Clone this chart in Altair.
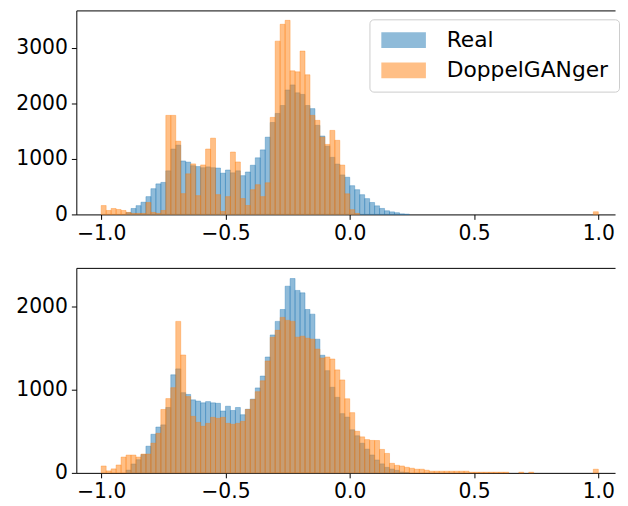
import altair as alt
import numpy as np
import pandas as pd

# ---- data ----
bin_edges = np.round(np.linspace(-1.0, 1.0, 101), 4)
series_names = ["Real", "DoppelGANger"]
series_colors = ["#1f77b4", "#ff7f0e"]
x_ticks = [-1.0, -0.5, 0.0, 0.5, 1.0]
y_ticks_top = [0, 1000, 2000, 3000]
y_ticks_bottom = [0, 1000, 2000]

real_counts = [
    0, 0, 0, 0, 0, 33, 107, 158, 220, 321,
    464, 551, 577, 786, 1179, 1250, 964, 943, 878, 863,
    842, 857, 842, 836, 744, 801, 750, 786, 699, 765,
    887, 1021, 1164, 1393, 1658, 1821, 1964, 2244, 2336, 2193,
    2164, 1964, 1908, 1607, 1414, 1229, 1029, 908, 712, 670,
    518, 446, 356, 285, 215, 155, 108, 66, 46, 31,
    10, 4, 0, 0, 0, 0, 0, 0, 0, 0,
    0, 0, 0, 0, 0, 0, 0, 0, 0, 0,
    0, 0, 0, 0, 0, 0, 0, 0, 0, 0,
    0, 0, 0, 0, 0, 0, 0, 0, 0, 0,
]

doppel_top = [
    160, 71, 107, 89, 71, 36, 18, 18, 18, 214,
    36, 18, 71, 1786, 1786, 1321, 375, 732, 911, 339,
    893, 1179, 1375, 357, 54, 321, 1125, 946, 286, 161,
    446, 536, 321, 571, 1750, 3125, 3429, 3500, 2589, 2571,
    2946, 2518, 1786, 1696, 1393, 1262, 1515, 1336, 890, 372,
    86, 18, 0, 0, 0, 0, 0, 0, 0, 0,
    0, 0, 0, 0, 0, 0, 0, 0, 0, 0,
    0, 0, 0, 0, 0, 0, 0, 0, 0, 0,
    0, 0, 0, 0, 0, 0, 0, 0, 0, 0,
    0, 0, 0, 0, 0, 0, 0, 0, 0, 48,
]

doppel_bottom = [
    83, 24, 48, 95, 190, 214, 214, 190, 226, 226,
    357, 476, 762, 893, 1024, 1821, 1417, 917, 679, 607,
    560, 595, 667, 655, 667, 595, 583, 595, 619, 762,
    881, 976, 1107, 1345, 1631, 1714, 1869, 1833, 1821, 1631,
    1643, 1619, 1607, 1488, 1381, 1393, 1369, 1238, 1117, 891,
    724, 500, 433, 400, 390, 389, 282, 234, 115, 91,
    83, 67, 56, 44, 44, 32, 20, 20, 20, 20,
    20, 20, 20, 20, 8, 8, 8, 8, 8, 8,
    8, 8, 0, 0, 8, 0, 8, 0, 0, 0,
    0, 0, 0, 0, 0, 0, 0, 0, 0, 44,
]

y_max_top = 3679
y_max_bottom = 2464
PLOT_W = 544
x_domain = [-1.1, -1.1 + PLOT_W / 251.0]

FONT = "DejaVu Sans"
TICK_FONT_SIZE = 20.5


def make_df(doppel):
    rows = []
    for name, counts in (("Real", real_counts), ("DoppelGANger", doppel)):
        for i, c in enumerate(counts):
            if c > 0:
                rows.append({"series": name, "x0": float(bin_edges[i]),
                             "x1": float(bin_edges[i + 1]), "count": c})
    return pd.DataFrame(rows)


def axis(**kw):
    base = dict(title=None, grid=False, labelFont=FONT,
                labelFontSize=TICK_FONT_SIZE, labelColor="black",
                tickColor="black", domainColor="black", tickSize=5,
                tickWidth=1, domainWidth=1, labelPadding=4)
    base.update(kw)
    return alt.Axis(**base)


def panel(df, ymax, yticks, height):
    xscale = alt.Scale(domain=x_domain, nice=False, zero=False)
    yscale = alt.Scale(domain=[0, ymax], nice=False)
    cscale = alt.Scale(domain=series_names, range=series_colors)
    bars = alt.Chart(df).mark_bar(
        fillOpacity=0.5, strokeOpacity=0.5, strokeWidth=0.7
    ).encode(
        x=alt.X("x0:Q", scale=xscale, axis=axis(values=x_ticks, format=".1f")),
        x2="x1:Q",
        y=alt.Y("count:Q", scale=yscale, stack=None,
                axis=axis(values=yticks, format="d")),
        y2=alt.datum(0),
        stroke=alt.Stroke("series:N", scale=cscale, legend=None),
        color=alt.Color(
            "series:N",
            scale=cscale,
            legend=alt.Legend(
                title=None, orient="none", legendX=296, legendY=9,
                symbolType="M-2.8125,-1L2.8125,-1L2.8125,1L-2.8125,1Z",
                symbolSize=256, symbolOffset=13.5, symbolOpacity=0.5,
                symbolStrokeWidth=0,
                labelFont=FONT, labelFontSize=22, labelColor="black",
                labelOffset=32.5, labelLimit=300, rowPadding=8.5, padding=10,
                cornerRadius=4, strokeColor="#cccccc",
                fillColor="rgba(255,255,255,0.8)",
            ),
        ),
    )
    top_spine = alt.Chart(df).mark_bar(opacity=0).encode(
        x=alt.X("x0:Q", scale=xscale,
                axis=axis(orient="top", labels=False, ticks=False, domain=True)),
        x2="x1:Q",
        y=alt.Y("count:Q", scale=yscale, stack=None,
                axis=axis(values=yticks, format="d")),
        y2=alt.datum(0),
    )
    return alt.layer(bars, top_spine).resolve_axis(x="independent").properties(
        width=PLOT_W, height=height)


top = panel(make_df(doppel_top), y_max_top, y_ticks_top, 206)
bottom = panel(make_df(doppel_bottom), y_max_bottom, y_ticks_bottom, 207)

chart = alt.vconcat(top, bottom, spacing=54, bounds="flush").properties(
    padding={"left": 7, "top": 0, "right": 0, "bottom": 0}
).configure_view(stroke=None)

chart.save("out.html", embed_options={"renderer": "svg", "actions": False})
